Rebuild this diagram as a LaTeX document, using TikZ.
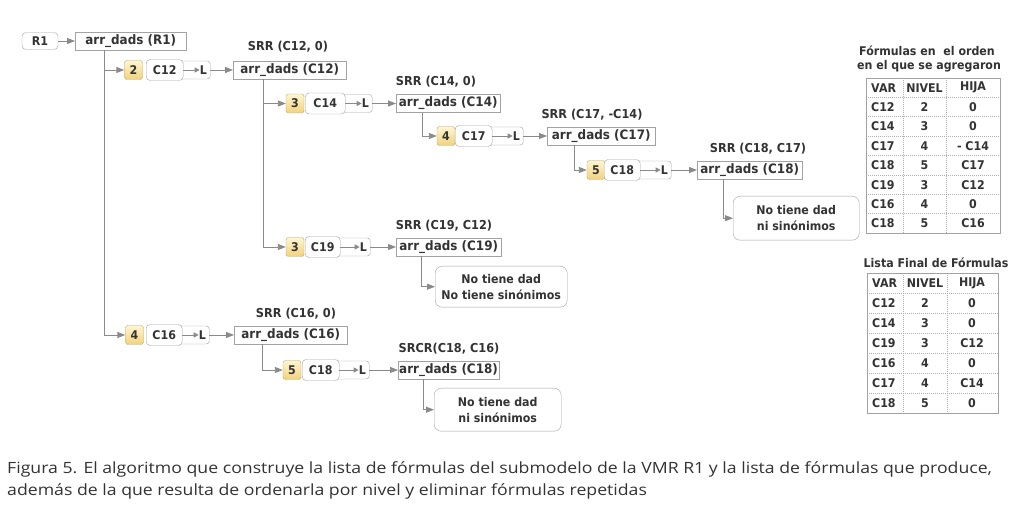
\documentclass[tikz,border=0pt]{standalone}
\usepackage{fontspec}
\setmainfont[FakeStretch=0.92]{DejaVu Sans}
\newfontfamily\capfont[FakeStretch=1.14]{Open Sans}
\usetikzlibrary{arrows.meta}
\definecolor{linegray}{HTML}{8A8A8A}
\definecolor{boxgray}{HTML}{A2A2A2}
\definecolor{textc}{HTML}{333333}
\definecolor{numtop}{HTML}{FFF6D2}
\definecolor{numbot}{HTML}{F1D27C}
\definecolor{numborder}{HTML}{BBA770}
\definecolor{dotgray}{HTML}{B0B0B0}
\tikzset{
  arrbox/.style={draw=boxgray, fill=white, rectangle, minimum height=18pt, inner sep=1pt, anchor=west, font=\bfseries\fontsize{13}{15}\selectfont},
  numbox/.style={draw=numborder, rounded corners=2.5pt, top color=numtop, bottom color=numbot, minimum width=18pt, minimum height=19pt, inner sep=0pt},
  varbox/.style={draw=boxgray, fill=white, rounded corners=4pt, minimum height=21pt, inner sep=0pt, anchor=west},
  grpbox/.style={draw=boxgray, fill=white, rounded corners=3pt, minimum height=18pt, inner sep=0pt, anchor=west},
  notebox/.style={draw=boxgray, fill=white, rounded corners=7pt, align=center, inner sep=0pt, anchor=north west, font=\bfseries\fontsize{12}{16}\selectfont},
  ltxt/.style={inner sep=0pt},
  lbl/.style={inner sep=0pt},
  srr/.style={inner sep=0pt, font=\bfseries\fontsize{12.3}{14}\selectfont},
  conn/.style={draw=linegray, line width=0.9pt, -{Triangle[length=8pt,width=6pt]}},
  smallarr/.style={draw=linegray, line width=0.8pt, -{Triangle[length=5pt,width=5pt]}},
  cell/.style={inner sep=0pt},
  tblout/.style={draw=boxgray, line width=0.8pt},
  tblin/.style={draw=dotgray, line width=0.6pt, dash pattern=on 1pt off 1pt},
  capt/.style={anchor=base west, inner sep=0pt, font=\capfont\fontsize{15.5}{18}\selectfont},
}
\begin{document}
\begin{tikzpicture}[x=1pt,y=-1pt, font=\bfseries\fontsize{12}{14}\selectfont, text=textc]
\fill[white] (0,0) rectangle (1031,518);
\useasboundingbox (0,0) rectangle (1031,518);

% ---------- root ----------
\node[draw=boxgray, fill=white, rounded corners=4pt, minimum width=36pt, minimum height=17pt, inner sep=0pt] (r1) at (40,41) {R1};
\node[arrbox, minimum width=111pt] (a1) at (75,41) {arr\_dads (R1)};
\draw[conn] (r1.east) -- (a1.west);

% ---------- row C12 ----------
\node[numbox] (n2) at (133.5,70) {2};
\node[grpbox, minimum width=64pt] (g2) at (146,70) {};
\node[varbox, minimum width=37pt] (v2) at (146,70) {C12};
\node[ltxt] (l2) at ([xshift=-7pt]g2.east) {L};
\draw[smallarr] (v2.east) -- (l2.west);
\node[arrbox, minimum width=113pt] (a2) at (233,70) {arr\_dads (C12)};
\node[srr] (s2) at (288,47) {SRR (C12, 0)};
\draw[conn] (g2.east) -- (a2.west);
\draw[conn] ([xshift=29pt]a1.south west) |- (n2.west);

% ---------- row C14 ----------
\node[numbox] (n3) at (295,103.5) {3};
\node[grpbox, minimum width=67pt] (g3) at (305,103.5) {};
\node[varbox, minimum width=40pt] (v3) at (305,103.5) {C14};
\node[ltxt] (l3) at ([xshift=-7pt]g3.east) {L};
\draw[smallarr] (v3.east) -- (l3.west);
\node[arrbox, minimum width=104pt] (a3) at (396,103.5) {arr\_dads (C14)};
\node[srr] (s3) at (436,82) {SRR (C14, 0)};
\draw[conn] (g3.east) -- (a3.west);
\draw[conn] ([xshift=30pt]a2.south west) |- (n3.west);

% ---------- row C17 ----------
\node[numbox] (n4) at (446,136) {4};
\node[grpbox, minimum width=68pt] (g4) at (455,136) {};
\node[varbox, minimum width=37pt] (v4) at (455,136) {C17};
\node[ltxt] (l4) at ([xshift=-7pt]g4.east) {L};
\draw[smallarr] (v4.east) -- (l4.west);
\node[arrbox, minimum width=108pt] (a4) at (547,136) {arr\_dads (C17)};
\node[srr] (s4) at (592,115) {SRR (C17, -C14)};
\draw[conn] (g4.east) -- (a4.west);
\draw[conn] ([xshift=26pt]a3.south west) |- (n4.west);

% ---------- row C18 (a) ----------
\node[numbox] (n5) at (596,170) {5};
\node[grpbox, minimum width=67pt] (g5) at (604,170) {};
\node[varbox, minimum width=36pt] (v5) at (604,170) {C18};
\node[ltxt] (l5) at ([xshift=-7pt]g5.east) {L};
\draw[smallarr] (v5.east) -- (l5.west);
\node[arrbox, minimum width=105pt] (a5) at (697,170) {arr\_dads (C18)};
\node[srr] (s5) at (758,149) {SRR (C18, C17)};
\draw[conn] (g5.east) -- (a5.west);
\draw[conn] ([xshift=27pt]a4.south west) |- (n5.west);
\node[notebox, minimum width=126pt, minimum height=44pt] (t5) at (733,196) {No tiene dad\\ni sinónimos};
\draw[conn] ([xshift=26pt]a5.south west) |- (t5.west);

% ---------- row C19 ----------
\node[numbox] (n6) at (295,247) {3};
\node[grpbox, minimum width=65pt] (g6) at (305,247) {};
\node[varbox, minimum width=35pt] (v6) at (305,247) {C19};
\node[ltxt] (l6) at ([xshift=-7pt]g6.east) {L};
\draw[smallarr] (v6.east) -- (l6.west);
\node[arrbox, minimum width=105pt] (a6) at (396,247) {arr\_dads (C19)};
\node[srr] (s6) at (444,226) {SRR (C19, C12)};
\draw[conn] (g6.east) -- (a6.west);
\draw[conn] ([xshift=30pt]a2.south west) |- (n6.west);
\node[notebox, minimum width=132pt, minimum height=41pt] (t6) at (435,266) {No tiene dad\\No tiene sinónimos};
\draw[conn] ([xshift=25pt]a6.south west) |- (t6.west);

% ---------- row C16 ----------
\node[numbox] (n7) at (134.5,335) {4};
\node[grpbox, minimum width=63pt] (g7) at (146,335) {};
\node[varbox, minimum width=36pt] (v7) at (146,335) {C16};
\node[ltxt] (l7) at ([xshift=-7pt]g7.east) {L};
\draw[smallarr] (v7.east) -- (l7.west);
\node[arrbox, minimum width=113pt] (a7) at (234,335) {arr\_dads (C16)};
\node[srr] (s7) at (296,314) {SRR (C16, 0)};
\draw[conn] (g7.east) -- (a7.west);
\draw[conn] ([xshift=29pt]a1.south west) |- (n7.west);

% ---------- row C18 (b) ----------
\node[numbox] (n8) at (292,370) {5};
\node[grpbox, minimum width=67pt] (g8) at (302,370) {};
\node[varbox, minimum width=37pt] (v8) at (302,370) {C18};
\node[ltxt] (l8) at ([xshift=-7pt]g8.east) {L};
\draw[smallarr] (v8.east) -- (l8.west);
\node[arrbox, minimum width=100pt] (a8) at (398,370) {arr\_dads (C18)};
\node[srr] (s8) at (449,349) {SRCR(C18, C16)};
\draw[conn] (g8.east) -- (a8.west);
\draw[conn] ([xshift=28pt]a7.south west) |- (n8.west);
\node[notebox, minimum width=127pt, minimum height=43pt] (t8) at (434,388) {No tiene dad\\ni sinónimos};
\draw[conn] ([xshift=25pt]a8.south west) |- (t8.west);

% ---------- table 1 ----------
\node[lbl] (tt1a) at (927,51) {Fórmulas en\ \ el orden};
\node[lbl] (tt1b) at (929,66) {en el que se agregaron};
\def\rh{19.4}
\foreach \i in {1,...,7} {\draw[tblin] (866,78+\i*\rh) -- (1000,78+\i*\rh);}
\draw[tblin] (903,78) -- (903,233.2);
\draw[tblin] (946,78) -- (946,233.2);
\draw[tblout] (866,78) rectangle (1000,233.2);
\node[cell, anchor=west] (h1a) at (871,78+0.5*\rh) {VAR};
\node[cell] (h1b) at (924.5,78+0.5*\rh) {NIVEL};
\node[cell] (h1c) at (973,78+0.5*\rh) {HIJA};
\foreach \v/\n/\h [count=\i] in {C12/2/0, C14/3/0, C17/4/- C14, C18/5/C17, C19/3/C12, C16/4/0, C18/5/C16} {
  \node[cell, anchor=west] (ta\i) at (871,78+\i*\rh+0.5*\rh) {\v};
  \node[cell] (tb\i) at (924.5,78+\i*\rh+0.5*\rh) {\n};
  \node[cell] (tc\i) at (973,78+\i*\rh+0.5*\rh) {\h};
}

% ---------- table 2 ----------
\node[lbl] (tt2) at (936,263) {Lista Final de Fórmulas};
\def\rhb{20}
\foreach \i in {1,...,6} {\draw[tblin] (867,273+\i*\rhb) -- (998,273+\i*\rhb);}
\draw[tblin] (903,273) -- (903,413);
\draw[tblin] (947,273) -- (947,413);
\draw[tblout] (867,273) rectangle (998,413);
\node[cell, anchor=west] (h2a) at (872,273+0.5*\rhb) {VAR};
\node[cell] (h2b) at (925,273+0.5*\rhb) {NIVEL};
\node[cell] (h2c) at (972,273+0.5*\rhb) {HIJA};
\foreach \v/\n/\h [count=\i] in {C12/2/0, C14/3/0, C19/3/C12, C16/4/0, C17/4/C14, C18/5/0} {
  \node[cell, anchor=west] (ua\i) at (872,273+\i*\rhb+0.5*\rhb) {\v};
  \node[cell] (ub\i) at (925,273+\i*\rhb+0.5*\rhb) {\n};
  \node[cell] (uc\i) at (972,273+\i*\rhb+0.5*\rhb) {\h};
}

% ---------- caption ----------
\node[capt] (cap1) at (7,473) {Figura 5. El algoritmo que construye la lista de fórmulas del submodelo de la VMR R1 y la lista de fórmulas que produce,};
\node[capt] (cap2) at (7,495) {además de la que resulta de ordenarla por nivel y eliminar fórmulas repetidas};
\end{tikzpicture}
\end{document}
